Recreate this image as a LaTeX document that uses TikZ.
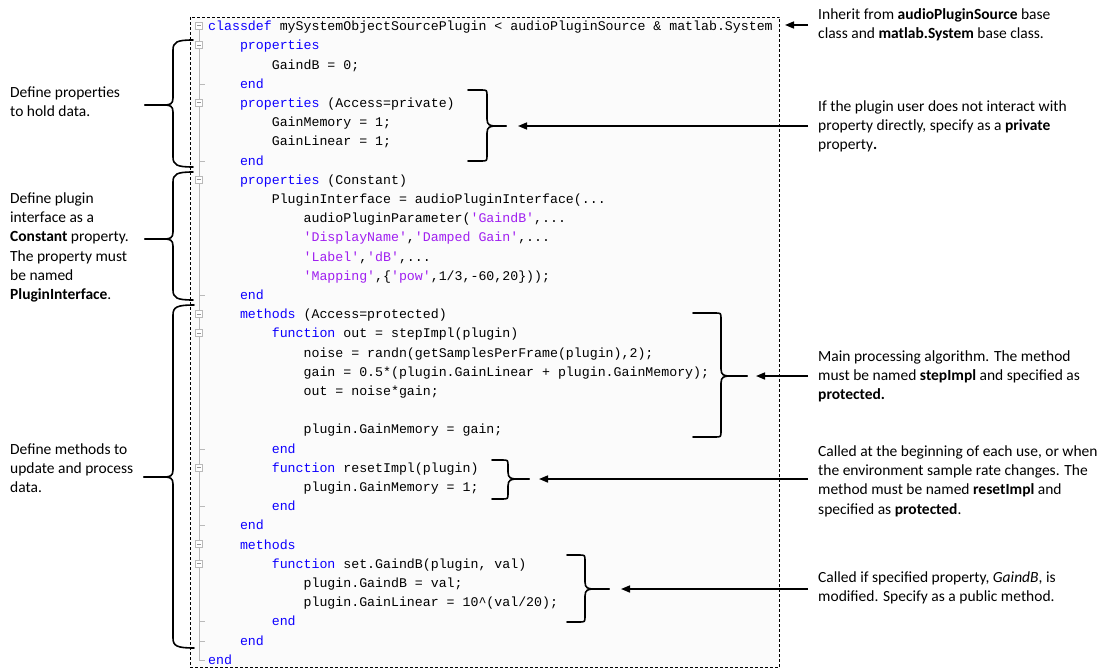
\documentclass[tikz,border=0pt]{standalone}
\usepackage{fontspec}
\setmainfont{Carlito}
\setmonofont{Liberation Mono}
\usetikzlibrary{arrows.meta}
\definecolor{kw}{RGB}{14,0,255}
\definecolor{str}{RGB}{160,32,240}
\definecolor{gut}{RGB}{185,185,185}
\definecolor{bgc}{RGB}{251,251,251}
\newcommand\kw[1]{\textcolor{kw}{#1}}
\newcommand\str[1]{\textcolor{str}{#1}}
\tikzset{
  code/.style={anchor=base west, inner sep=0pt, font=\ttfamily\fontsize{13.25}{15}\selectfont},
  lbl/.style={anchor=base west, inner sep=0pt, font=\fontsize{15.5}{19.2}\selectfont},
  brc/.style={line width=1.6pt, line cap=round, line join=round},
  arr/.style={line width=1.6pt, -{Triangle[length=9pt,width=7pt]}},
  fold/.style={draw=gut, fill=white, minimum size=7pt, inner sep=0pt, rectangle,
    path picture={\draw[gut!80!black] ([xshift=-2.2pt]path picture bounding box.center) -- ([xshift=2.2pt]path picture bounding box.center);}},
}
% code line: name, indent level, line number, content
\newcommand\cl[4]{\node[code] (#1) at ({208+31.8*#2},{30.7+19.2*#3}) {#4};}
% right brace: name, x ends, x spine, x tip, y top, y bottom, y mid
\newcommand\braceR[7]{%
  \draw[brc] (#2,#5) -- ({#3-6},#5) .. controls (#3,#5) .. (#3,{#5+6}) -- (#3,{#7-7}) .. controls (#3,{#7-1}) and ({#3+3},#7) .. ({#3+9},#7) -- (#4,#7) coordinate (#1);
  \draw[brc] (#4,#7) -- ({#3+9},#7) .. controls ({#3+3},#7) and (#3,{#7+1}) .. (#3,{#7+7}) -- (#3,{#6-6}) .. controls (#3,#6) .. ({#3-6},#6) -- (#2,#6);}
% left brace
\newcommand\braceL[7]{%
  \draw[brc] (#2,#5) .. controls ({#3+4},#5) and (#3,{#5+2}) .. (#3,{#5+10}) -- (#3,{#7-7}) .. controls (#3,{#7-1}) and ({#3-3},#7) .. ({#3-9},#7) -- (#4,#7) coordinate (#1);
  \draw[brc] (#4,#7) -- ({#3-9},#7) .. controls ({#3-3},#7) and (#3,{#7+1}) .. (#3,{#7+7}) -- (#3,{#6-10}) .. controls (#3,{#6-2}) and ({#3+4},#6) .. (#2,#6);}
\begin{document}
\begin{tikzpicture}[x=1pt,y=-1pt]
\useasboundingbox (0,0) rectangle (1120,669);
\fill[white] (0,0) rectangle (1120,669);
% code box
\draw[dash pattern=on 3pt off 2pt, line width=0.8pt, fill=bgc] (190.5,17) rectangle (779.5,667.5);
% gutter
\draw[gut, line width=0.9pt] (199,29) -- (199,{26.7+19.2*33}) -- (204.5,{26.7+19.2*33});
\foreach \n in {3,7,14,22,25,26,31,32} \draw[gut, line width=0.9pt] (199,{26.7+19.2*\n}) -- (204.5,{26.7+19.2*\n});
\foreach \n in {0,1,4,8,15,16,23,27,28} \node[fold] (f\n) at (199,{25.7+19.2*\n}) {};
% code
\cl{c0}{0}{0}{\kw{classdef} mySystemObjectSourcePlugin < audioPluginSource \& matlab.System}
\cl{c1}{1}{1}{\kw{properties}}
\cl{c2}{2}{2}{GaindB = 0;}
\cl{c3}{1}{3}{\kw{end}}
\cl{c4}{1}{4}{\kw{properties} (Access=private)}
\cl{c5}{2}{5}{GainMemory = 1;}
\cl{c6}{2}{6}{GainLinear = 1;}
\cl{c7}{1}{7}{\kw{end}}
\cl{c8}{1}{8}{\kw{properties} (Constant)}
\cl{c9}{2}{9}{PluginInterface = audioPluginInterface(...}
\cl{c10}{3}{10}{audioPluginParameter(\str{'GaindB'},...}
\cl{c11}{3}{11}{\str{'DisplayName'},\str{'Damped Gain'},...}
\cl{c12}{3}{12}{\str{'Label'},\str{'dB'},...}
\cl{c13}{3}{13}{\str{'Mapping'},\{\str{'pow'},1/3,-60,20\}));}
\cl{c14}{1}{14}{\kw{end}}
\cl{c15}{1}{15}{\kw{methods} (Access=protected)}
\cl{c16}{2}{16}{\kw{function} out = stepImpl(plugin)}
\cl{c17}{3}{17}{noise = randn(getSamplesPerFrame(plugin),2);}
\cl{c18}{3}{18}{gain = 0.5*(plugin.GainLinear + plugin.GainMemory);}
\cl{c19}{3}{19}{out = noise*gain;}
\cl{c21}{3}{21}{plugin.GainMemory = gain;}
\cl{c22}{2}{22}{\kw{end}}
\cl{c23}{2}{23}{\kw{function} resetImpl(plugin)}
\cl{c24}{3}{24}{plugin.GainMemory = 1;}
\cl{c25}{2}{25}{\kw{end}}
\cl{c26}{1}{26}{\kw{end}}
\cl{c27}{1}{27}{\kw{methods}}
\cl{c28}{2}{28}{\kw{function} set.GaindB(plugin, val)}
\cl{c29}{3}{29}{plugin.GaindB = val;}
\cl{c30}{3}{30}{plugin.GainLinear = 10\textasciicircum(val/20);}
\cl{c31}{2}{31}{\kw{end}}
\cl{c32}{1}{32}{\kw{end}}
\cl{c33}{0}{33}{\kw{end}}
% left braces
\braceL{bl1}{193}{173}{145}{40}{167}{105}
\braceL{bl2}{193}{173}{145}{172}{300}{239}
\braceL{bl3}{194}{173}{144}{305}{648}{477}
% right braces
\braceR{br1}{468}{487}{506}{90}{161}{126}
\braceR{br2}{693}{721}{747}{313}{437}{376}
\braceR{br3}{492}{508}{529}{460}{499}{479}
\braceR{br4}{567}{585}{609}{555}{622}{589}
% left labels
\node[lbl] (la) at (10,97.5) {\begin{tabular}[t]{@{}l@{}}Define properties\\to hold data.\end{tabular}};
\node[lbl] (lb) at (10,203.5) {\begin{tabular}[t]{@{}l@{}}Define plugin\\interface as a\\\textbf{Constant} property.\\The property must\\be named\\\textbf{PluginInterface}.\end{tabular}};
\node[lbl] (lc) at (10,454.5) {\begin{tabular}[t]{@{}l@{}}Define methods to\\update and process\\data.\end{tabular}};
% right labels
\node[lbl] (r1) at (818,19.5) {\begin{tabular}[t]{@{}l@{}}Inherit from \textbf{audioPluginSource} base\\class and \textbf{matlab.System} base class.\end{tabular}};
\node[lbl] (r2) at (818,111.5) {\begin{tabular}[t]{@{}l@{}}If the plugin user does not interact with\\property directly, specify as a \textbf{private}\\property\textbf{.}\end{tabular}};
\node[lbl] (r3) at (818,361.5) {\begin{tabular}[t]{@{}l@{}}Main processing algorithm. The method\\must be named \textbf{stepImpl} and specified as\\\textbf{protected.}\end{tabular}};
\node[lbl] (r4) at (818,456.5) {\begin{tabular}[t]{@{}l@{}}Called at the beginning of each use, or when\\the environment sample rate changes. The\\method must be named \textbf{resetImpl} and\\specified as \textbf{protected}.\end{tabular}};
\node[lbl] (r5) at (818,582.5) {\begin{tabular}[t]{@{}l@{}}Called if specified property, \textit{GaindB}, is\\modified. Specify as a public method.\end{tabular}};
% arrows
\coordinate (s1) at (808,25);  \coordinate (e1) at (785,25);
\coordinate (s2) at (808,126); \coordinate (e2) at (518,126);
\coordinate (s3) at (808,376); \coordinate (e3) at (756,376);
\coordinate (s4) at (808,479); \coordinate (e4) at (539,479);
\coordinate (s5) at (808,589); \coordinate (e5) at (621,589);
\draw[arr] (s1) -- (e1);
\draw[arr] (s2) -- (e2);
\draw[arr] (s3) -- (e3);
\draw[arr] (s4) -- (e4);
\draw[arr] (s5) -- (e5);
\end{tikzpicture}
\end{document}
